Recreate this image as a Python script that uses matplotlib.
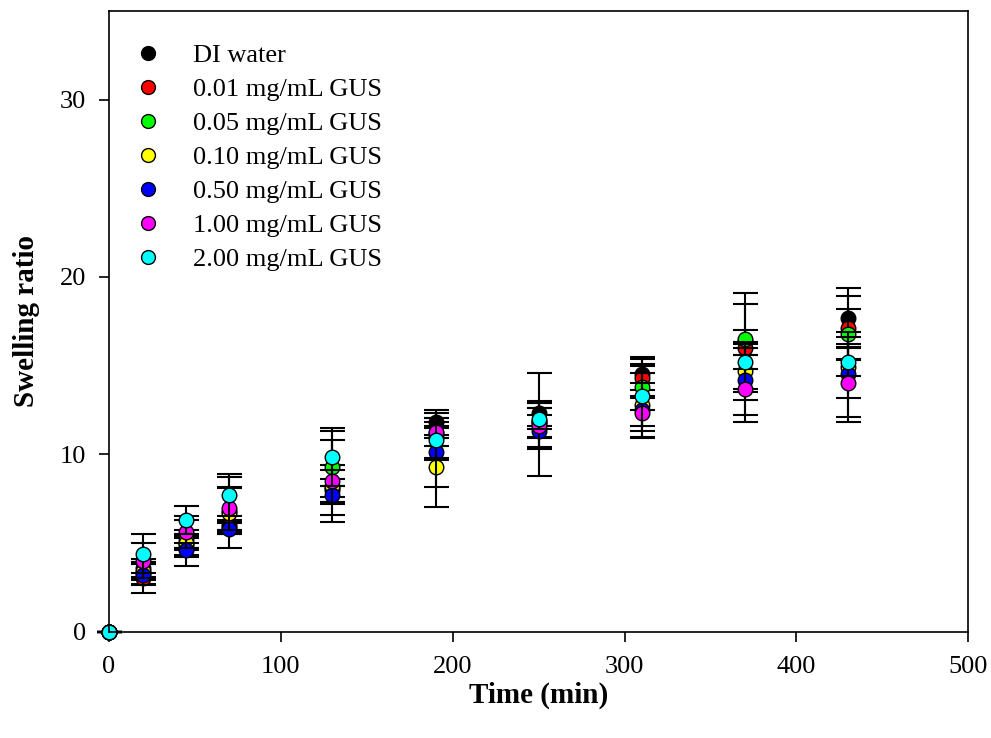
import matplotlib
matplotlib.use("Agg")
import matplotlib.pyplot as plt
import numpy as np

plt.rcParams['font.family'] = ['Liberation Serif', 'DejaVu Serif']

time = [0, 20, 45, 70, 130, 190, 250, 310, 370, 430]

labels = ["DI water", "0.01 mg/mL GUS", "0.05 mg/mL GUS", "0.10 mg/mL GUS",
          "0.50 mg/mL GUS", "1.00 mg/mL GUS", "2.00 mg/mL GUS"]
colors = ["#000000", "#ff0000", "#00ff00", "#ffff00", "#0000ff", "#ff00ff", "#00ffff"]

di_water = [0, 3.3, 4.8, 6.0, 8.1, 11.8, 12.3, 14.55, 16.4, 17.7]
gus_001 = [0, 3.0, 5.0, 5.9, 8.0, 11.0, 11.8, 14.3, 16.0, 17.1]
gus_005 = [0, 3.6, 5.2, 6.8, 9.3, 11.2, 11.9, 13.8, 16.5, 16.8]
gus_010 = [0, 3.4, 5.0, 6.7, 8.2, 9.3, 11.7, 12.75, 14.7, 14.9]
gus_050 = [0, 3.2, 4.6, 5.8, 7.7, 10.1, 11.3, 12.5, 14.2, 14.5]
gus_100 = [0, 4.0, 5.6, 6.95, 8.5, 11.25, 11.6, 12.3, 13.7, 14.0]
gus_200 = [0, 4.4, 6.3, 7.7, 9.85, 10.8, 12.0, 13.3, 15.2, 15.2]

err_di = [0, 0.6, 0.5, 0.3, 0.5, 0.7, 0.7, 0.95, 2.7, 1.65]
err_001 = [0, 0.8, 1.3, 0.3, 1.4, 1.3, 0.8, 1.1, 2.5, 1.8]
err_005 = [0, 0.5, 0.5, 1.3, 2.0, 0.3, 1.0, 1.3, 0.5, 1.4]
err_010 = [0, 0.5, 0.4, 2.0, 0.9, 2.3, 2.9, 1.85, 1.65, 1.7]
err_050 = [0, 0.6, 0.4, 0.3, 0.5, 1.95, 0.9, 1.5, 2.0, 2.4]
err_100 = [0, 1.0, 0.9, 1.2, 2.3, 0.8, 1.3, 1.0, 1.9, 2.2]
err_200 = [0, 1.1, 0.8, 1.2, 1.65, 1.0, 0.6, 1.7, 0.4, 0.8]

series = [di_water, gus_001, gus_005, gus_010, gus_050, gus_100, gus_200]
errors = [err_di, err_001, err_005, err_010, err_050, err_100, err_200]

fig = plt.figure(figsize=(9.91, 7.38), dpi=100)
ax = fig.add_axes([0.110, 0.1443, 0.867, 0.8407])

handles = []
for vals, errs, c, lab in zip(series, errors, colors, labels):
    ax.errorbar(time, vals, yerr=errs, fmt='none', ecolor='black',
                elinewidth=1.5, capsize=9, capthick=1.5, zorder=2, clip_on=False)
    h = ax.plot(time, vals, linestyle='none', marker='o', markersize=10.5,
                markerfacecolor=c, markeredgecolor='black', markeredgewidth=1.0,
                label=lab, zorder=2, clip_on=False)[0]
    handles.append(h)

ax.set_xlim(0, 500)
ax.set_ylim(0, 35)
ax.set_xticks([0, 100, 200, 300, 400, 500])
ax.set_yticks([0, 10, 20, 30])
ax.tick_params(direction='out', length=7, width=1.2, labelsize=19, pad=9.5)
ax.tick_params(axis='x', pad=10.5)
for s in ax.spines.values():
    s.set_linewidth(1.2)

ax.set_xlabel("Time (min)", fontsize=21, fontweight='bold', labelpad=3)
ax.set_ylabel("Swelling ratio", fontsize=21, fontweight='bold', labelpad=14)

leg = ax.legend(handles=handles, loc='upper left', frameon=False, fontsize=19,
                bbox_to_anchor=(0.002, 0.965), handletextpad=0.7, labelspacing=0.4,
                markerscale=0.95, borderaxespad=0.0)

fig.savefig("out.png", dpi=100)
